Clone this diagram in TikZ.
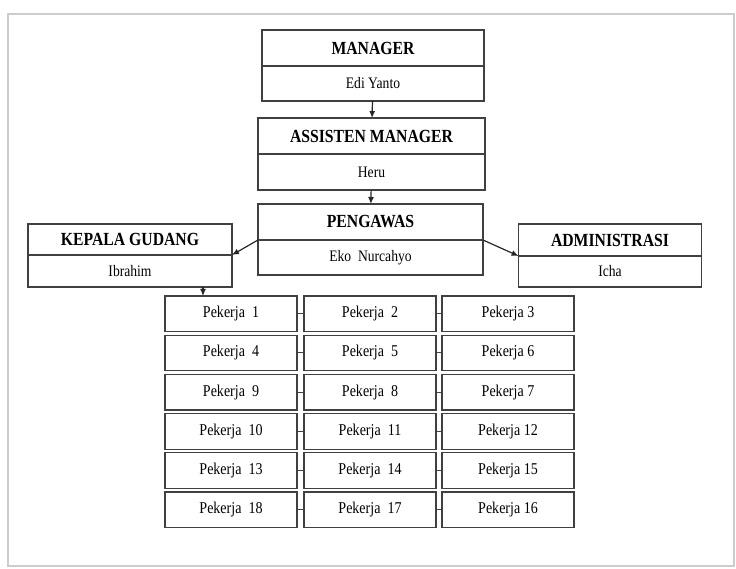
\documentclass[tikz,border=0pt]{standalone}
\usepackage{fontspec}
\setmainfont[FakeStretch=0.85]{Liberation Serif}
\usetikzlibrary{positioning,arrows.meta}
\tikzset{
  kotak/.style={draw=black!75, line width=1.2pt, fill=white, inner sep=0pt, outer sep=0pt},
  jabatan/.style={kotak, font=\fontsize{18.5}{20}\selectfont\bfseries},
  nama/.style={kotak, font=\fontsize{16}{18}\selectfont},
  pekerja/.style={kotak, minimum width=132pt, minimum height=35.5pt, font=\fontsize{16.5}{18}\selectfont},
  panah/.style={-{Latex[length=7pt,width=6pt]}, line width=1.2pt, black!85},
  garis/.style={line width=1pt, black!75}
}

\begin{document}
\begin{tikzpicture}[x=1pt,y=-1pt]
	\useasboundingbox (0,0) rectangle (736,569);
	\draw[gray!40, line width=2pt] (8,14) rectangle (734,566);
	
	% manager
	\node[jabatan, minimum width=222pt, minimum height=36pt] (mgr) at (373,48) {MANAGER};
	\node[nama, minimum width=222pt, minimum height=35pt, below=0pt of mgr] (mgrnama) {Edi Yanto};
	% assisten manager
	\node[jabatan, minimum width=227pt, minimum height=36pt] (asm) at (371.5,136) {ASSISTEN MANAGER};
	\node[nama, minimum width=227pt, minimum height=36pt, below=0pt of asm] (asmnama) {Heru};
	% pengawas
	\node[jabatan, minimum width=225pt, minimum height=36pt] (pgw) at (370.5,222) {PENGAWAS};
	\node[nama, minimum width=225pt, minimum height=35pt, below=0pt of pgw] (pgwnama) {Eko~~Nurcahyo};
	% kepala gudang
	\node[jabatan, minimum width=204pt, minimum height=31pt] (kpl) at (130,239.5) {KEPALA GUDANG};
	\node[nama, minimum width=204pt, minimum height=32pt, below=0pt of kpl] (kplnama) {Ibrahim};
	% administrasi
	\node[jabatan, minimum width=183pt, minimum height=32pt] (adm) at (610,240) {ADMINISTRASI};
	\node[nama, minimum width=183pt, minimum height=31pt, below=0pt of adm] (admnama) {Icha};
	
	\draw[panah] (mgrnama) -- (asm);
	\draw[panah] (asmnama) -- (pgw);
	\draw[panah] (pgw.south west) -- (kpl.south east);
	\draw[panah] (pgw.south east) -- (adm.south west);
	
	% pekerja
	\foreach \a/\b/\c [count=\r] in {1/2/3,4/5/6,9/8/7,10/11/12,13/14/15,18/17/16}{
		\node[pekerja] (w\r-a) at (231,313.75+39.2*\r-39.2) {Pekerja~~\a};
		\node[pekerja] (w\r-b) at (370,313.75+39.2*\r-39.2) {Pekerja~~\b};
		\node[pekerja] (w\r-c) at (508,313.75+39.2*\r-39.2) {Pekerja \c};
		\draw[garis] (w\r-a) -- (w\r-b);
		\draw[garis] (w\r-b) -- (w\r-c);
	}
	\draw[panah] ([xshift=73pt]kplnama.south) -- ([xshift=-28pt]w1-a.north);
\end{tikzpicture}
\end{document}
